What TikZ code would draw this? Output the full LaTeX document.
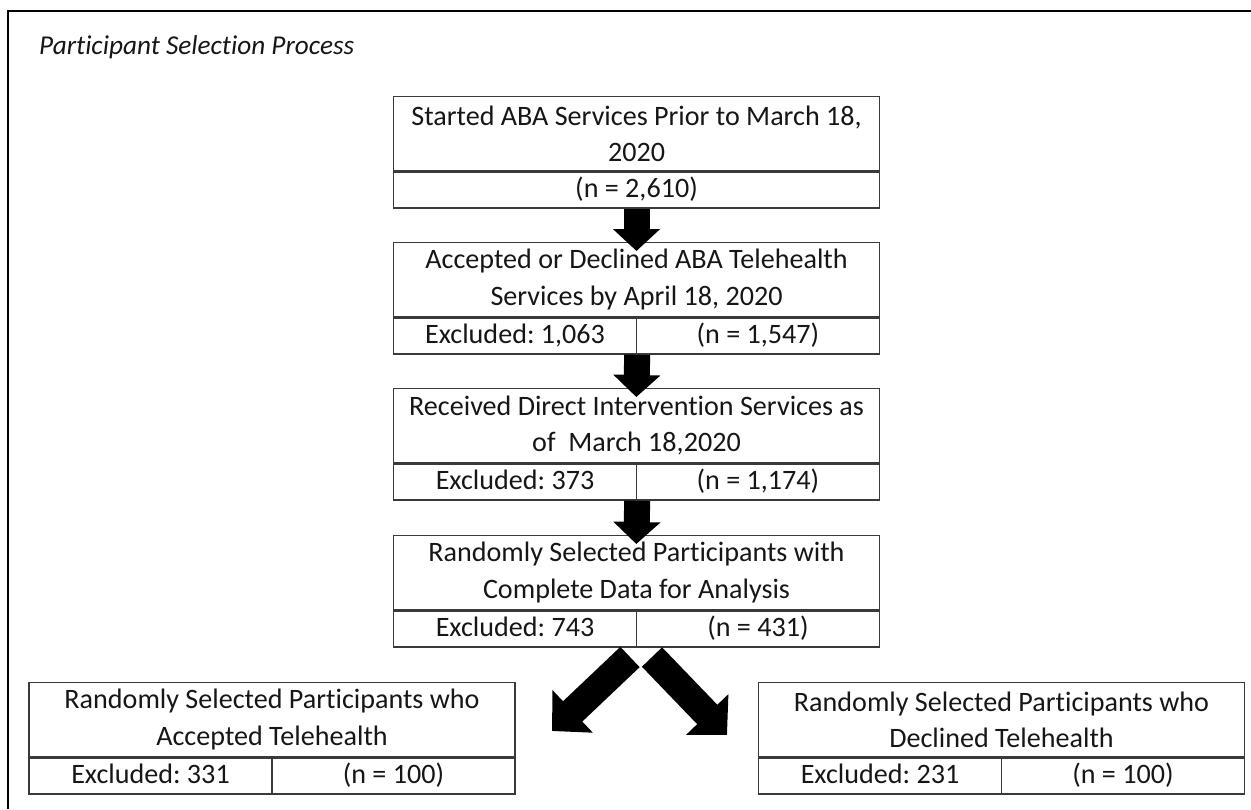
\documentclass[tikz,border=0pt]{standalone}
\usepackage{fontspec}
\setmainfont{Carlito}[Ligatures=NoCommon]
\usetikzlibrary{arrows.meta}
\frenchspacing
\definecolor{rulegray}{HTML}{3A3A3A}
\definecolor{inkgray}{HTML}{161616}
\tikzset{
  head/.style={draw=rulegray, line width=0.8pt, minimum width=9.72cm, minimum height=1.48cm,
    inner sep=0pt, align=center, text=inkgray, font=\fontsize{16}{20.8}\selectfont},
  cell/.style={draw=rulegray, line width=0.8pt, minimum width=4.86cm, minimum height=0.72cm,
    inner sep=0pt, text height=11.5pt, text depth=3.5pt, text=inkgray, font=\fontsize{16}{19}\selectfont},
  wide/.style={cell, minimum width=9.72cm},
  downarrow/.style={line width=0.52cm, -{Triangle[width=0.92cm,length=0.44cm]}, shorten >=-0.18cm},
  splitarrow/.style={line width=0.56cm, -{Triangle[width=1.14cm,length=0.57cm]}}
}
\begin{document}
\begin{tikzpicture}[x=0.02cm,y=-0.02cm]
 \useasboundingbox (0,0) rectangle (1251,809);
 % frame and title
 \draw[line width=1.7pt] (8,809) -- (8,11) -- (1251,11);
 \node[anchor=west, text=inkgray, font=\fontsize{15.5}{18}\selectfont\itshape] (title) at (33,47) {Participant Selection Process};
 % main column
 \node[head, anchor=north] (started) at (636.5,96) {Started ABA Services Prior to March 18,\\2020};
 \node[wide, anchor=north] (startedN) at (started.south) {(n = 2,610)};
 \node[head, anchor=north] (accept) at (636.5,242) {Accepted or Declined ABA Telehealth\\Services by April 18, 2020};
 \node[cell, anchor=north west] (acceptEx) at (accept.south west) {Excluded: 1,063};
 \node[cell, anchor=north east] (acceptN) at (accept.south east) {(n = 1,547)};
 \node[head, anchor=north] (direct) at (636.5,388) {Received Direct Intervention Services as\\of~ March 18,2020};
 \node[cell, anchor=north west] (directEx) at (direct.south west) {Excluded: 373};
 \node[cell, anchor=north east] (directN) at (direct.south east) {(n = 1,174)};
 \node[head, anchor=north] (select) at (636.5,535) {Randomly Selected Participants with\\Complete Data for Analysis};
 \node[cell, anchor=north west] (selectEx) at (select.south west) {Excluded: 743};
 \node[cell, anchor=north east] (selectN) at (select.south east) {(n = 431)};
 % two groups
 \node[head, anchor=north] (accepted) at (272,682) {Randomly Selected Participants who\\Accepted Telehealth};
 \node[cell, anchor=north west] (acceptedEx) at (accepted.south west) {Excluded: 331};
 \node[cell, anchor=north east] (acceptedN) at (accepted.south east) {(n = 100)};
 \node[head, anchor=north] (declined) at (1001.5,682) {Randomly Selected Participants who\\Declined Telehealth};
 \node[cell, anchor=north west] (declinedEx) at (declined.south west) {Excluded: 231};
 \node[cell, anchor=north east] (declinedN) at (declined.south east) {(n = 100)};
 % arrows
 \draw[downarrow] (startedN.south) -- (accept.north);
 \draw[downarrow] (acceptEx.south east) -- (direct.north);
 \draw[downarrow] (directEx.south east) -- (select.north);
 \coordinate (forkL) at (630,657);
 \coordinate (forkR) at (652,657);
 \coordinate (tipL) at (552,731);
 \coordinate (tipR) at (727,735);
 \draw[splitarrow] (forkL) -- (tipL);
 \draw[splitarrow] (forkR) -- (tipR);
\end{tikzpicture}
\end{document}
